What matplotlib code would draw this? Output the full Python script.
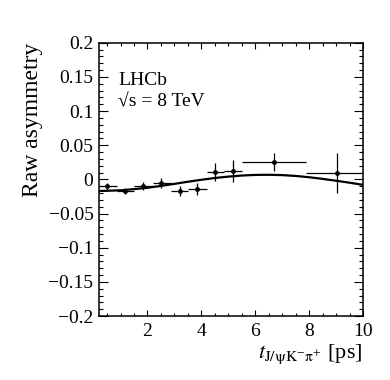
import numpy as np
import matplotlib
matplotlib.use('Agg')
import matplotlib.pyplot as plt
from matplotlib.ticker import MultipleLocator

# --- data ---
t_pts = [0.49, 1.17, 1.85, 2.50, 3.19, 3.83, 4.51, 5.16, 6.68, 9.04]
asym = [-0.010, -0.017, -0.010, -0.005, -0.017, -0.014, 0.011, 0.012, 0.025, 0.009]
asym_err = [0.005, 0.004, 0.0055, 0.0073, 0.0073, 0.009, 0.0127, 0.016, 0.013, 0.029]
bin_edges = [0.2, 0.86, 1.51, 2.2, 2.86, 3.52, 4.2, 4.85, 5.5, 7.9, 10.0]

t_fit = [0.2, 0.5, 1.0, 1.5, 2.0, 2.5, 3.0, 3.5, 4.0, 4.5, 5.0, 5.5, 6.0,
         6.5, 7.0, 7.5, 8.0, 8.5, 9.0, 9.5, 10.0]
a_fit = [-0.0170, -0.0167, -0.0160, -0.0143, -0.0123, -0.0096, -0.0066, -0.0035,
         -0.0006, 0.0020, 0.0040, 0.0056, 0.0065, 0.0067, 0.0062, 0.0050,
         0.0031, 0.0007, -0.0020, -0.0049, -0.0080]

plt.rcParams['font.family'] = ['Liberation Serif', 'DejaVu Serif']
plt.rcParams['mathtext.fontset'] = 'stix'

fig = plt.figure(figsize=(3.9, 3.8), dpi=100)
ax = fig.add_axes([0.2538, 0.1684, 0.677, 0.7192])

t = np.array(t_pts)
edges = np.array(bin_edges)
xerr = [t - edges[:-1], edges[1:] - t]
ax.errorbar(t, asym, xerr=xerr, yerr=asym_err, fmt='o', ms=2.5, color='k',
            ecolor='k', elinewidth=0.9, capsize=0)
ax.plot(t_fit, a_fit, color='k', lw=1.6)

ax.set_xlim(0.2, 10)
ax.set_ylim(-0.2, 0.2)
ax.xaxis.set_minor_locator(MultipleLocator(0.5))
ax.yaxis.set_minor_locator(MultipleLocator(0.01))
ax.set_yticks([-0.2, -0.15, -0.1, -0.05, 0, 0.05, 0.1, 0.15, 0.2])
ax.set_yticklabels(['\u22120.2', '\u22120.15', '\u22120.1', '\u22120.05', '0',
                    '0.05', '0.1', '0.15', '0.2'])
ax.set_xticks([2, 4, 6, 8, 10])
ax.set_xticklabels(['2', '4', '6', '8', '10'])

ax.tick_params(which='both', direction='in', top=True, right=True,
               labelsize=14, width=0.8)
ax.tick_params(axis='y', which='major', length=6.5, pad=4)
ax.tick_params(axis='y', which='minor', length=3.2)
ax.tick_params(axis='x', which='major', length=4.3, pad=5)
ax.tick_params(axis='x', which='minor', length=2.4)
for s in ax.spines.values():
    s.set_linewidth(1.1)

ax.set_ylabel('Raw asymmetry', fontsize=17, loc='top', labelpad=4)
ax.set_xlabel(r'$t_{\mathrm{J/\psi K^{-}\pi^{+}}}$ [ps]', fontsize=16,
              loc='right', labelpad=2)

ax.text(0.072, 0.845, 'LHCb', transform=ax.transAxes, fontsize=14,
        va='baseline', ha='left')
ax.text(0.072, 0.765, '\u221As = 8 TeV', transform=ax.transAxes,
        fontsize=14, va='baseline', ha='left')

fig.savefig('out.png', dpi=100)
